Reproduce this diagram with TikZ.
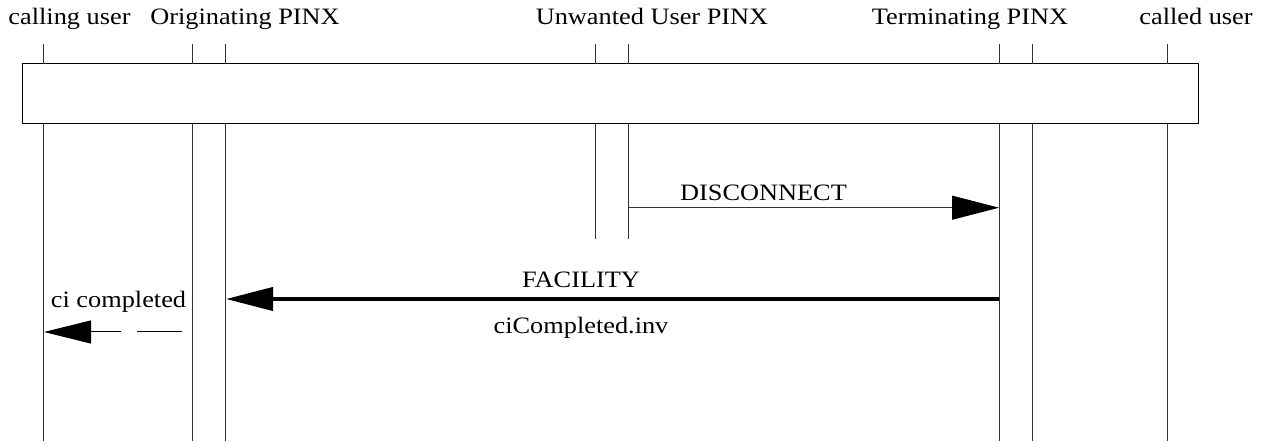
\documentclass[tikz,border=0pt]{standalone}
\usepackage{fontspec}
\setmainfont{Liberation Serif}[FakeStretch=1.12]
\usetikzlibrary{arrows.meta}
\begin{document}
\begin{tikzpicture}[x=1pt,y=-1pt,
  lbl/.style={font=\fontsize{23.5}{28}\selectfont, anchor=base, inner sep=0pt},
  life/.style={line width=1pt, black!80},
  msgthin/.style={line width=1pt, black!80, -{Triangle[length=47pt,width=24pt,fill=black,color=black]}},
  msgthick/.style={line width=4pt, black, -{Triangle[length=47pt,width=23pt]}},
  msgdash/.style={line width=1pt, black, dash pattern=on 45pt off 16pt, -{Triangle[length=47pt,width=23pt]}},
  framebox/.style={draw, line width=1pt, minimum width=1176pt, minimum height=60pt, inner sep=0pt}]
\useasboundingbox (0,0) rectangle (1271,443);

% header labels
\node[lbl] (lcu) at (69.5,25) {calling user};
\node[lbl] (lop) at (245,25) {Originating PINX};
\node[lbl] (luu) at (652,25) {Unwanted User PINX};
\node[lbl] (ltp) at (970,25) {Terminating PINX};
\node[lbl] (lcd) at (1196,25) {called user};

% box
\node[framebox] (box) at (610,94) {};

% lifeline coordinates
\foreach \n/\x in {a/43,b/192,c/225.5,d/595,e/628,f/999,g/1032,h/1167}{
  \coordinate (\n0) at (\x,44);
  \coordinate (\n1) at (\x,64);
  \coordinate (\n2) at (\x,124);
  \coordinate (\n3) at (\x,441);
  \coordinate (\n4) at (\x,239);
}
\foreach \n in {a,b,c,d,e,f,g,h}{
  \draw[life] (\n0) -- (\n1);
}
\foreach \n in {a,b,c,f,g,h}{
  \draw[life] (\n2) -- (\n3);
}
\foreach \n in {d,e}{
  \draw[life] (\n2) -- (\n4);
}

% message coordinates
\coordinate (m1s) at (628,207.7);
\coordinate (m1e) at (999,207.7);
\coordinate (m2s) at (999,299);
\coordinate (m2e) at (226,299);
\coordinate (m3s) at (182,332);
\coordinate (m3e) at (44,332);

\draw[msgthin] (m1s) -- (m1e);
\draw[msgthick] (m2s) -- (m2e);
\draw[msgdash] (m3s) -- (m3e);

\node[lbl] (tdis) at (763.5,200.7) {DISCONNECT};
\node[lbl] (tfac) at (581,288) {FACILITY};
\node[lbl] (tinv) at (581,334) {ciCompleted.inv};
\node[lbl] (tcic) at (118.5,308) {ci completed};
\end{tikzpicture}
\end{document}
